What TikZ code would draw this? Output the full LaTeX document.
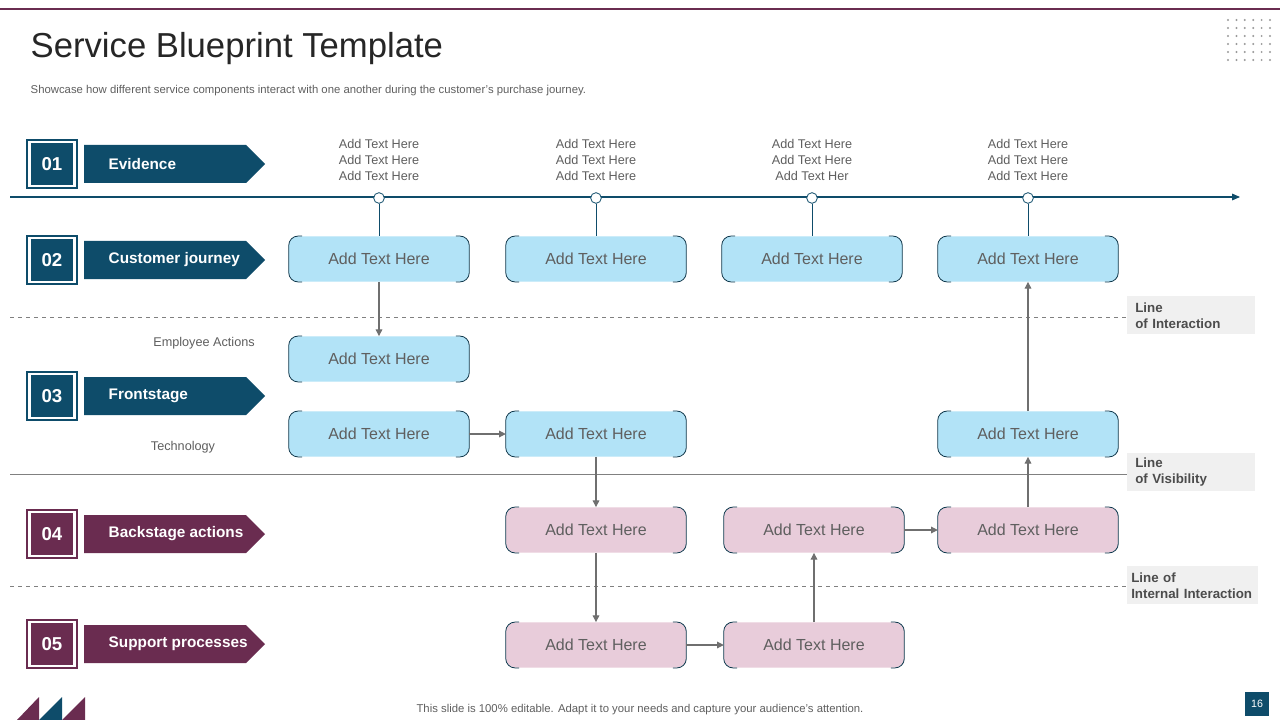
\documentclass[tikz,border=0pt]{standalone}
\usepackage{fontspec}
\setmainfont{Liberation Sans}
\usetikzlibrary{arrows.meta}
\definecolor{teal}{HTML}{0E4C6A}
\definecolor{plum}{HTML}{6A2C50}
\definecolor{lblue}{HTML}{B2E3F7}
\definecolor{lpink}{HTML}{E8CCDA}
\definecolor{gtxt}{HTML}{5F5F5F}
\definecolor{lgray}{HTML}{F0F0F0}
\begin{document}
\begin{tikzpicture}[x=0.75pt,y=-0.75pt,
  box/.style={minimum width=135pt,minimum height=34pt,inner sep=0pt,rounded corners=7pt,font=\fontsize{12}{14}\selectfont,text=gtxt},
  bluebox/.style={box,fill=lblue},
  pinkbox/.style={box,fill=lpink},
  arr/.style={draw=gtxt!90,line width=0.8pt,-{Triangle[length=5pt,width=5pt]}},
  lab/.style={fill=lgray,minimum height=28.5pt,align=left,font=\bfseries\fontsize{10}{12}\selectfont,text=gtxt!80!black,inner sep=0pt},
  num/.style={minimum size=31pt,inner sep=0pt,text=white,font=\bfseries\fontsize{14}{16}\selectfont},
  small/.style={text=gtxt,font=\fontsize{9.5}{12}\selectfont,align=center}]
\useasboundingbox (0,0) rectangle (1280,720);
\fill[white] (0,0) rectangle (1280,720);
\draw[plum,line width=0.8pt] (0,9) -- (1280,9);
\foreach \i in {0,...,5}{\foreach \j in {0,...,5}{\fill[gray!80] (1228+8.4*\i,20+8*\j) circle (1.1);}}
\node[anchor=west,font=\fontsize{26}{30}\selectfont,text=black!85] (title) at (26,49) {Service Blueprint Template};
\node[anchor=west,font=\fontsize{8.5}{10}\selectfont,text=gtxt] (sub) at (26,91) {Showcase how different service components interact with one another during the customer's purchase journey.};
% lines
\draw[teal,line width=0.8pt,-{Triangle[length=6pt,width=5pt]}] (10,197) -- (1240,197);
\draw[gray,dashed,line width=0.6pt] (10,317) -- (1127,317);
\draw[gray,line width=0.6pt] (10,474) -- (1127,474);
\draw[gray,dashed,line width=0.6pt] (10,586) -- (1127,586);
\node[lab,anchor=north west,minimum width=96pt,text width=84pt] (l1) at (1127,296) {Line\\of Interaction};
\node[lab,anchor=north west,minimum width=96pt,text width=84pt] (l2) at (1127,453) {Line\\of Visibility};
\node[lab,anchor=north west,minimum width=98pt,text width=92pt] (l3) at (1127,566) {Line of\\Internal Interaction};
% left labels
\foreach \n/\t/\y/\c in {01/Evidence/164/teal,02/Customer journey/260/teal,03/Frontstage/396/teal,04/Backstage actions/534/plum,05/Support processes/644/plum}{
  \node[num,fill=\c] (n\n) at (52,\y) {\n};
  \draw[\c,line width=0.8pt] (27,\y-24) rectangle (77,\y+24);
  \fill[\c] (84,\y-19) -- (246,\y-19) -- (265,\y) -- (246,\y+19) -- (84,\y+19) -- cycle;
  \node[anchor=west,text=white,font=\bfseries\fontsize{11.5}{14}\selectfont] (t\n) at (104,\y) {\t};
}
\node[small] (ea) at (204,343) {Employee Actions};
\node[small] (tech) at (183,447) {Technology};
% evidence texts and circles
\foreach \x/\k/\last in {379/a/Add Text Here,596/b/Add Text Here,812/c/Add Text Her,1028/d/Add Text Here}{
  \node[small] (ev\k) at (\x,160) {Add Text Here\\Add Text Here\\\last};
  \node[circle,draw=teal,fill=white,inner sep=0pt,minimum size=8pt,line width=0.6pt] (c\k) at (\x,198) {};
}
% boxes
\newcommand{\bx}[4]{%
  \node[#4] (#1) at (#2,#3) {Add Text Here};
  \draw[teal!70!black,line width=0.6pt,rounded corners=7pt] ([xshift=10pt]#1.north west) -- (#1.north west) -- (#1.south west) -- ([xshift=10pt]#1.south west);
  \draw[teal!70!black,line width=0.6pt,rounded corners=7pt] ([xshift=-10pt]#1.north east) -- (#1.north east) -- (#1.south east) -- ([xshift=-10pt]#1.south east);}
\bx{b1}{379}{259}{bluebox}
\bx{b2}{596}{259}{bluebox}
\bx{b3}{812}{259}{bluebox}
\bx{b4}{1028}{259}{bluebox}
\bx{e1}{379}{359}{bluebox}
\bx{f1}{379}{434}{bluebox}
\bx{f2}{596}{434}{bluebox}
\bx{f4}{1028}{434}{bluebox}
\bx{k2}{596}{530}{pinkbox}
\bx{k3}{814}{530}{pinkbox}
\bx{k4}{1028}{530}{pinkbox}
\bx{s2}{596}{645}{pinkbox}
\bx{s3}{814}{645}{pinkbox}
\foreach \k/\b in {a/b1,b/b2,c/b3,d/b4}{\draw[teal,line width=0.6pt] (c\k) -- (\b);}
\draw[arr] (b1) -- (e1);
\draw[arr] (f1) -- (f2);
\draw[arr] (f2) -- (k2);
\draw[arr] (k2) -- (s2);
\draw[arr] (s2) -- (s3);
\draw[arr] (s3) -- (k3);
\draw[arr] (k3) -- (k4);
\draw[arr] (k4) -- (f4);
\draw[arr] (f4) -- (b4);
% footer
\fill[plum] (17,720) -- (39,697) -- (39,720) -- cycle;
\fill[teal] (39,720) -- (62,697) -- (62,720) -- cycle;
\fill[plum] (62,720) -- (85,697) -- (85,720) -- cycle;
\node[font=\fontsize{8.5}{10}\selectfont,text=gtxt] (foot) at (640,710) {This slide is 100\% editable. Adapt it to your needs and capture your audience's attention.};
\node[fill=teal,text=white,minimum width=18pt,minimum height=18pt,inner sep=0pt,font=\fontsize{8}{10}\selectfont] (pg) at (1257,704) {16};
\end{tikzpicture}
\end{document}
